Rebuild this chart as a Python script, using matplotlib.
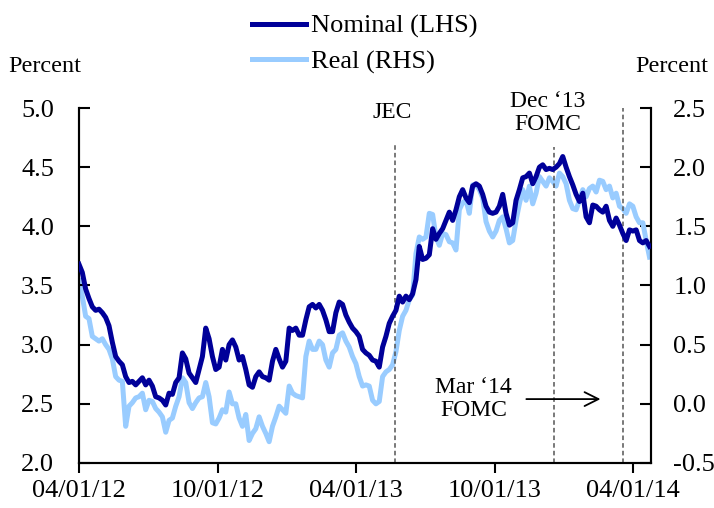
import numpy as np
import pandas as pd
import matplotlib
matplotlib.use("Agg")
import matplotlib.pyplot as plt
import matplotlib.dates as mdates

plt.rcParams['font.family'] = ['Liberation Serif', 'DejaVu Serif']
plt.rcParams['axes.unicode_minus'] = False

# 10-year yields (roughly every 4-5 days)
dates = pd.date_range('2012-04-01', '2014-04-23', periods=172)

nominal = [
    3.68, 3.61, 3.47, 3.39, 3.32, 3.29, 3.30, 3.27, 3.23, 3.16,
    3.02, 2.90, 2.86, 2.83, 2.73, 2.68, 2.69, 2.66, 2.69, 2.72,
    2.66, 2.70, 2.65, 2.56, 2.55, 2.53, 2.49, 2.59, 2.58, 2.68,
    2.72, 2.93, 2.88, 2.76, 2.72, 2.68, 2.79, 2.90, 3.14, 3.05,
    2.90,
    2.79, 2.81, 2.96, 2.87, 3.00, 3.04, 2.98, 2.87, 2.90, 2.79,
    2.66, 2.64, 2.73, 2.77, 2.73, 2.72, 2.70, 2.86, 2.96, 2.88,
    2.81, 2.86, 3.14, 3.12, 3.14, 3.08, 3.08, 3.21, 3.32, 3.34,
    3.31, 3.34, 3.29, 3.21, 3.11, 3.11, 3.27, 3.36, 3.34, 3.25,
    3.19, 3.14, 3.11, 3.07, 2.96, 2.93,
    2.91, 2.87, 2.86, 2.81, 2.98, 3.07, 3.18, 3.24, 3.29, 3.41,
    3.36, 3.41, 3.38, 3.43, 3.55, 3.83, 3.72, 3.73, 3.76, 3.98,
    3.89, 3.94, 3.98, 4.05, 4.12, 4.05, 4.14, 4.25, 4.31, 4.24,
    4.20,
    4.34, 4.36, 4.34, 4.27, 4.17, 4.12, 4.11, 4.12, 4.17, 4.27,
    4.11, 4.01, 4.03, 4.22, 4.31, 4.41, 4.42, 4.45, 4.36, 4.42,
    4.50, 4.52, 4.48, 4.49, 4.48, 4.50, 4.53,
    4.59, 4.50, 4.42, 4.35, 4.27, 4.21, 4.28, 4.08, 4.03, 4.18,
    4.17, 4.14, 4.12, 4.17, 4.05, 4.00, 4.07, 4.01, 3.94, 3.88,
    3.97, 3.96, 3.97, 3.88, 3.86, 3.88, 3.83,
]

real = [
    1.04, 0.91, 0.74, 0.72, 0.57, 0.55, 0.53, 0.55, 0.50, 0.46,
    0.38, 0.23, 0.20, 0.19, -0.19, -0.02, 0.01, 0.05, 0.06, 0.09,
    -0.05, 0.03, 0.02, -0.04, -0.07, -0.11, -0.24, -0.14, -0.12, -0.02,
    0.06, 0.22, 0.18, 0.01, -0.04, 0.01, 0.05, 0.06, 0.18, 0.06,
    -0.16,
    -0.17, -0.12, -0.05, -0.07, 0.10, 0.00, 0.00, -0.12, -0.19, -0.09,
    -0.31, -0.25, -0.21, -0.11, -0.19, -0.25, -0.32, -0.19, -0.11, -0.02,
    -0.05, -0.08, 0.15, 0.09, 0.07, 0.06, 0.05, 0.40, 0.53, 0.46,
    0.46, 0.53, 0.50, 0.37, 0.31, 0.43, 0.46, 0.58, 0.60, 0.53,
    0.48, 0.40, 0.34, 0.23, 0.15, 0.16,
    0.15, 0.03, 0.00, 0.02, 0.23, 0.27, 0.29, 0.33, 0.44, 0.62,
    0.74, 0.79, 0.88, 0.92, 1.27, 1.41, 1.39, 1.41, 1.61, 1.60,
    1.41, 1.34, 1.44, 1.43, 1.37, 1.36, 1.30, 1.64, 1.70, 1.72,
    1.61,
    1.85, 1.85, 1.81, 1.74, 1.54, 1.46, 1.41, 1.46, 1.55, 1.58,
    1.48, 1.36, 1.38, 1.55, 1.69, 1.81, 1.72, 1.84, 1.69, 1.78,
    1.92, 1.88, 1.84, 1.91, 1.88, 1.84, 1.95,
    1.92, 1.86, 1.72, 1.65, 1.64, 1.72, 1.81, 1.75, 1.82, 1.84,
    1.79, 1.89, 1.88, 1.81, 1.84, 1.74, 1.78, 1.67, 1.65, 1.61,
    1.69, 1.67, 1.58, 1.53, 1.53, 1.38, 1.24,
]

events = ['2013-05-22', '2013-12-18', '2014-03-19']
event_tops = [4.70, 4.67, 5.0]

navy = '#000099'
light = '#99CCFF'
fs = 19

fig = plt.figure(figsize=(7.14, 5.08), dpi=100)
ax = fig.add_axes([0.1106, 0.0886, 0.8012, 0.6988])
ax2 = ax.twinx()

ln1, = ax.plot(dates, nominal, color=navy, lw=3.6, zorder=3, label='Nominal (LHS)')
ln2, = ax2.plot(dates, real, color=light, lw=3.6, zorder=2, label='Real (RHS)')
ax.set_zorder(ax2.get_zorder() + 1)
ax.patch.set_visible(False)

for d, top in zip(events, event_tops):
    ax.plot([pd.Timestamp(d)] * 2, [2.0, top], color='#555555', lw=1.1,
            ls=(0, (3, 2)), zorder=1)

ax.set_xlim(pd.Timestamp('2012-04-01'), pd.Timestamp('2014-04-25'))
ax.set_ylim(2.0, 5.0)
ax2.set_ylim(-0.5, 2.5)
ax.set_yticks(np.arange(2.0, 5.01, 0.5))
ax2.set_yticks(np.arange(-0.5, 2.51, 0.5))
ax.yaxis.set_major_formatter(matplotlib.ticker.FormatStrFormatter('%.1f'))
ax2.yaxis.set_major_formatter(matplotlib.ticker.FormatStrFormatter('%.1f'))

xt = pd.to_datetime(['2012-04-01', '2012-10-01', '2013-04-01', '2013-10-01', '2014-04-01'])
ax.set_xticks(xt)
ax.xaxis.set_major_formatter(mdates.DateFormatter('%m/%d/%y'))

for a in (ax, ax2):
    a.spines['top'].set_visible(False)
    for s in a.spines.values():
        s.set_linewidth(1.5)
ax.tick_params(axis='y', direction='in', length=8, width=1.5, labelsize=fs, pad=18)
ax2.tick_params(axis='y', direction='in', length=8, width=1.5, labelsize=fs, pad=16)
ax.tick_params(axis='x', direction='out', length=7, width=1.5, labelsize=fs, pad=5)

ax.text(pd.Timestamp('2013-05-19'), 4.96, 'JEC', ha='center', va='center', fontsize=17)
ax.text(pd.Timestamp('2013-12-10'), 4.96, 'Dec \u201813\nFOMC', ha='center', va='center',
        fontsize=17, linespacing=1.15)
ax.text(pd.Timestamp('2013-09-03'), 2.54, 'Mar \u201814\nFOMC', ha='center', va='center',
        fontsize=17, linespacing=1.15)
ax.annotate('', xy=(pd.Timestamp('2014-02-21'), 2.54), xytext=(pd.Timestamp('2013-11-08'), 2.54),
            arrowprops=dict(arrowstyle='->', color='black', lw=1.3, mutation_scale=25))

fig.text(0.012, 0.870, 'Percent', fontsize=17.5, va='center', ha='left')
fig.text(0.992, 0.870, 'Percent', fontsize=17.5, va='center', ha='right')

fig.legend(handles=[ln1, ln2], loc='center left', bbox_to_anchor=(0.353, 0.913),
           frameon=False, fontsize=fs, handlelength=2.05, handletextpad=0.2,
           labelspacing=0.45, borderaxespad=0, borderpad=0)

fig.savefig('out.png', dpi=100)
